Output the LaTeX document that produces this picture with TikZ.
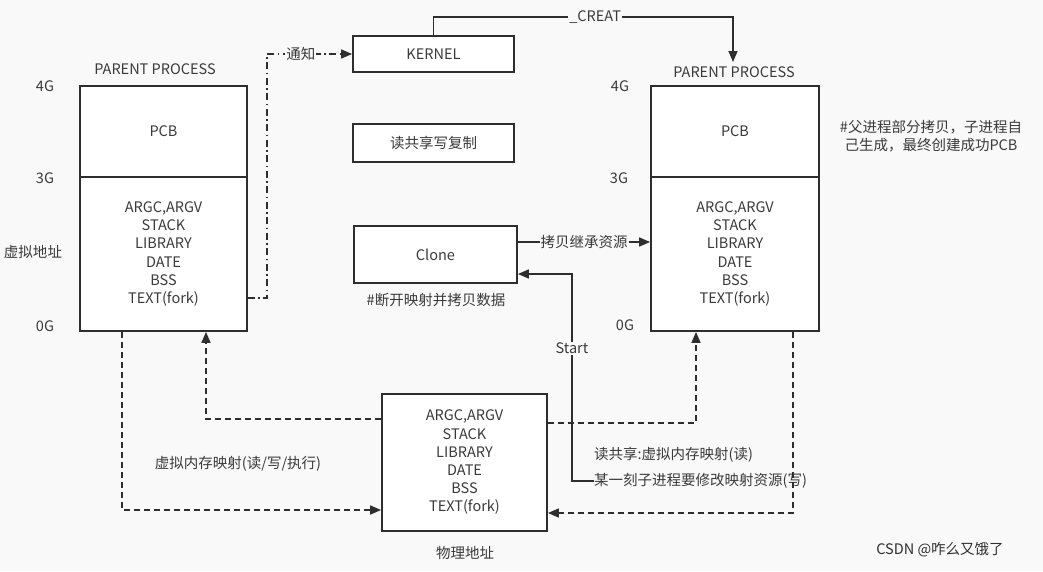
\documentclass[tikz,border=0pt]{standalone}
\usepackage{fontspec}
\setmainfont{Noto Sans CJK SC}
\usetikzlibrary{arrows.meta}
\definecolor{bg}{HTML}{F9F9F9}
\definecolor{ink}{HTML}{2E2E2E}
\definecolor{txt}{HTML}{3A3A3A}
\begin{document}
\begin{tikzpicture}[x=1pt,y=-1pt,
  font=\fontsize{14.5}{18.2}\selectfont, text=txt,
  box/.style={draw=ink,line width=1.8pt,fill=white,inner sep=0pt,align=center},
  conn/.style={draw=ink,line width=1.6pt},
  arr/.style={conn,-{Triangle[length=11pt,width=9pt]}},
  dsh/.style={dash pattern=on 6pt off 4pt},
  dashdot/.style={dash pattern=on 7pt off 3.5pt on 1.5pt off 3.5pt},
  lbl/.style={fill=bg,inner sep=1pt},
  plain/.style={inner sep=0pt}]
\fill[bg] (0,0) rectangle (1043,571);
\useasboundingbox (0,0) rectangle (1043,571);

% left process
\node[box,minimum width=167pt,minimum height=91pt] (pcbL) at (163.5,131.5) {PCB};
\node[box,minimum width=167pt,minimum height=154pt] (memL) at (163.5,254) {ARGC,ARGV\\STACK\\LIBRARY\\DATE\\BSS\\TEXT(fork)};
\node[plain] (ppL) at (155,69) {PARENT PROCESS};
\node[plain] (g4L) at (45,86) {4G};
\node[plain] (g3L) at (45,178) {3G};
\node[plain] (g0L) at (45,326) {0G};
\node[plain] (vaddr) at (33,252) {虚拟地址};

% right process
\node[box,minimum width=168pt,minimum height=91pt] (pcbR) at (735,131.5) {PCB};
\node[box,minimum width=168pt,minimum height=154pt] (memR) at (735,254) {ARGC,ARGV\\STACK\\LIBRARY\\DATE\\BSS\\TEXT(fork)};
\node[plain] (ppR) at (734,72) {PARENT PROCESS};
\node[plain] (g4R) at (620,86) {4G};
\node[plain] (g3R) at (619,178) {3G};
\node[plain] (g0R) at (625,325) {0G};
\node[plain,align=center] (note) at (931,136) {\#父进程部分拷贝，子进程自\\己生成，最终创建成功PCB};

% middle boxes
\node[box,minimum width=161pt,minimum height=36pt] (kernel) at (433.5,54) {KERNEL};
\node[box,minimum width=161pt,minimum height=38pt] (rw) at (433.5,143) {读共享写复制};
\node[box,minimum width=163pt,minimum height=57pt] (clone) at (435.5,254.5) {Clone};
\node[plain] (cnote) at (436,300) {\#断开映射并拷贝数据};

% physical
\node[box,minimum width=165pt,minimum height=137pt] (phys) at (464.5,462.5) {ARGC,ARGV\\STACK\\LIBRARY\\DATE\\BSS\\TEXT(fork)};
\node[plain] (paddr) at (465,553) {物理地址};
\node[plain] (vmap) at (238,464) {虚拟内存映射(读/写/执行)};
\node[plain,anchor=west] (rtext) at (594,455) {读共享:虚拟内存映射(读)};
\node[plain,anchor=west] (wtext) at (594,481) {某一刻子进程要修改映射资源(写)};

\node[plain,text=ink] (wm) at (940,550) {CSDN @咋么又饿了};

% connectors
\draw[arr,dashdot] ([yshift=-44pt]memL.east) -- ++(19,0) |- (kernel.west)
  node[lbl,pos=0.7,dash pattern=] {通知};
\coordinate (ce) at (733,62);
\draw[arr] (kernel.north) -- (kernel.north |- 0,17) -| (ce)
  node[lbl,pos=0.27] {\_CREAT};
\draw[arr] ([yshift=12.5pt]clone.east) -- ([yshift=12.5pt]clone.east -| memR.west)
  node[lbl,midway] {拷贝继承资源};
\draw[arr] (wtext.west) -- ++(-22,0) |- ([yshift=-19.5pt]clone.east)
  node[lbl,pos=0.32] {Start};

\draw[arr,dsh] ([xshift=-41.5pt]memL.south) |- ([yshift=-47.5pt]phys.west);
\draw[arr,dsh] ([yshift=43.5pt]phys.west) -| ([xshift=42.5pt]memL.south);
\draw[arr,dsh] ([yshift=39.5pt]phys.east) -| ([xshift=-39pt]memR.south);
\draw[arr,dsh] ([xshift=58pt]memR.south) |- ([yshift=-50.5pt]phys.east);
\end{tikzpicture}
\end{document}
